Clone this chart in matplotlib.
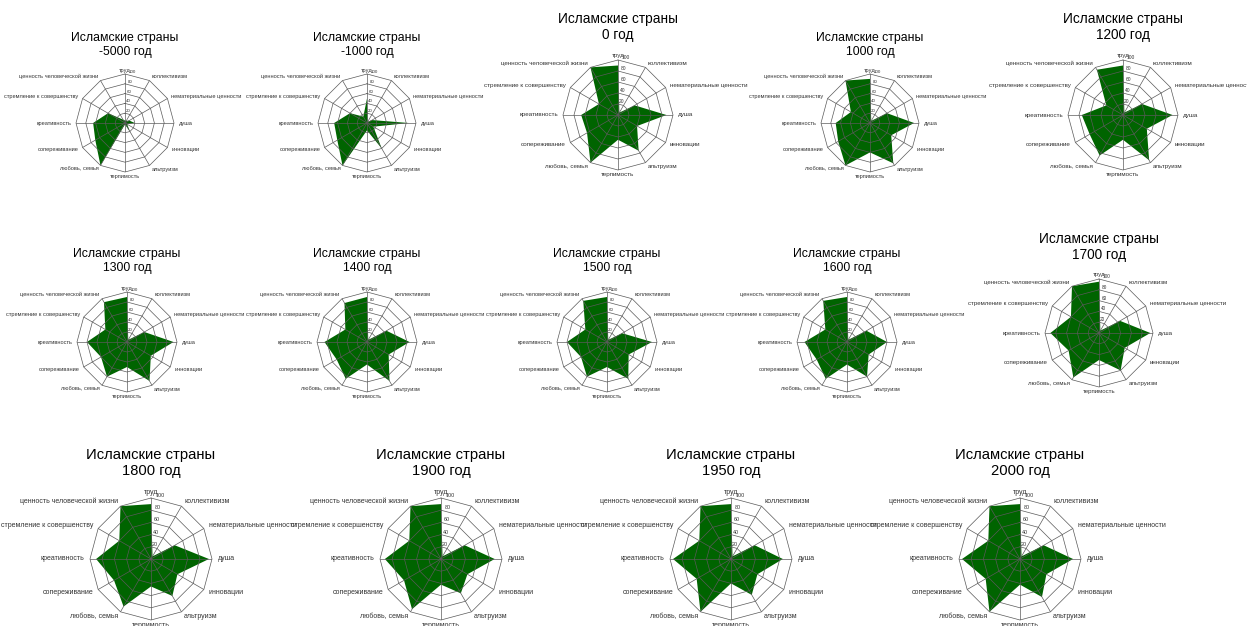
import numpy as np
import matplotlib.pyplot as plt

plt.rcParams['font.family'] = ['Liberation Sans', 'DejaVu Sans']

region = "Исламские страны"
categories = ["труд", "коллективизм", "нематериальные ценности", "душа",
              "инновации", "альтруизм", "терпимость", "любовь, семья",
              "сопереживание", "креативность", "стремление к совершенству",
              "ценность человеческой жизни"]
years = ["-5000", "-1000", "0", "1000", "1200",
         "1300", "1400", "1500", "1600", "1700",
         "1800", "1900", "1950", "2000"]
ticks = [20, 40, 60, 80, 100]

# значения по категориям (по часовой стрелке от "труд")
v_m5000 = [5, 5, 10, 20, 5, 20, 3, 100, 70, 65, 40, 8]
v_m1000 = [50, 3, 12, 85, 15, 60, 15, 100, 70, 67, 40, 15]
v_0 = [90, 5, 35, 88, 40, 75, 45, 100, 65, 67, 40, 100]
v_1000 = [90, 5, 40, 90, 50, 95, 60, 100, 75, 70, 45, 100]
v_1200 = [90, 5, 40, 90, 50, 95, 45, 85, 70, 75, 35, 95]
v_1300 = [90, 5, 40, 93, 55, 90, 50, 80, 60, 80, 50, 92]
v_1400 = [90, 5, 45, 85, 50, 90, 45, 85, 70, 85, 50, 90]
v_1500 = [90, 5, 35, 90, 50, 85, 50, 80, 60, 80, 50, 95]
v_1600 = [90, 5, 45, 80, 50, 80, 45, 85, 70, 85, 50, 95]
v_1700 = [95, 5, 45, 95, 55, 80, 50, 95, 65, 90, 60, 100]
v_1800 = [90, 5, 45, 95, 50, 70, 45, 90, 70, 90, 60, 100]
v_1900 = [90, 5, 45, 88, 50, 65, 42, 95, 70, 92, 60, 100]
v_1950 = [90, 5, 45, 85, 50, 68, 40, 100, 65, 95, 60, 100]
v_2000 = [90, 5, 45, 87, 50, 72, 42, 100, 65, 95, 60, 100]

series = [v_m5000, v_m1000, v_0, v_1000, v_1200, v_1300, v_1400,
          v_1500, v_1600, v_1700, v_1800, v_1900, v_1950, v_2000]

W, H = 1247, 626
# центр x, центр y, радиус (в пикселях), отступ заголовка, размер шрифта заголовка
layout = [
    (125, 123, 49, 29, 8.8), (367, 123, 49, 29, 8.8), (618, 115, 55, 33, 9.8),
    (870, 123, 49, 29, 8.8), (1123, 115, 55, 33, 9.8),
    (127, 342, 50, 31, 8.8), (367, 342, 50, 31, 8.8), (607, 342, 50, 31, 8.8),
    (847, 342, 50, 31, 8.8), (1099, 333, 54, 32, 9.8),
    (151, 559, 61, 35, 10.6), (441, 559, 61, 35, 10.6),
    (731, 559, 61, 35, 10.6), (1020, 559, 61, 35, 10.6),
]

grid_c = '#5a5a5a'
fill_c = '#006400'

fig = plt.figure(figsize=(W / 100, H / 100), dpi=100)

theta = np.linspace(0, 2 * np.pi, len(categories), endpoint=False)
theta_closed = np.append(theta, theta[0])

for year, vals, (cx, cy, r, toff, tfs) in zip(years, series, layout):
    rect = [(cx - r) / W, 1 - (cy + r) / H, 2 * r / W, 2 * r / H]
    ax = fig.add_axes(rect, projection='polar')
    ax.set_theta_offset(np.pi / 2)
    ax.set_theta_direction(-1)
    ax.set_ylim(0, 100)
    ax.spines['polar'].set_visible(False)

    ax.fill(theta, vals, color=fill_c, lw=0, zorder=1)
    for t in ticks:
        ax.plot(theta_closed, [t] * len(theta_closed), color=grid_c, lw=0.5,
                zorder=2, clip_on=False)

    ax.set_xticks(theta)
    ax.set_xticklabels([])
    ax.xaxis.grid(True, color=grid_c, lw=0.5)
    ax.yaxis.grid(False)
    ax.tick_params(axis='x', length=0)

    ax.set_yticks(ticks)
    ax.set_yticklabels([str(t) for t in ticks], fontsize=3.2 * r / 50,
                       color='#333333')
    ax.set_rlabel_position(4)

    lfs = 4.1 * r / 50
    for i, (a, lab) in enumerate(zip(theta, categories)):
        s = np.sin(a)
        if s > 0.01:
            ha = 'left'
        elif s < -0.01:
            ha = 'right'
        else:
            ha = 'center'
        if i == 0:
            ax.text(a, 103, lab, ha=ha, va='bottom', fontsize=lfs, color='#333333')
        elif i == 6:
            ax.text(a, 104, lab, ha=ha, va='top', fontsize=lfs, color='#333333')
        else:
            ax.text(a, 109, lab, ha=ha, va='center', fontsize=lfs, color='#333333')

    ty = cy - r - toff
    fig.text(cx / W, 1 - ty / H, f"{region}\n{year} год", ha='center',
             va='center', fontsize=tfs, linespacing=1.25)

fig.savefig("out.png", dpi=100, facecolor='white')
